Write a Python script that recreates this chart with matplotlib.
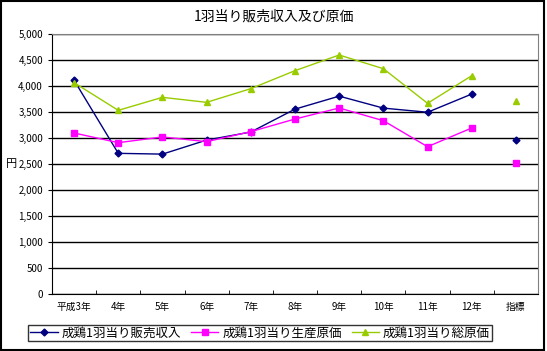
import matplotlib
matplotlib.use("Agg")
import matplotlib.pyplot as plt
from matplotlib.patches import Rectangle
import numpy as np

plt.rcParams['font.family'] = ['Noto Sans CJK JP', 'DejaVu Sans']

# データ
categories = ['平成3年', '4年', '5年', '6年', '7年', '8年', '9年', '10年', '11年', '12年', '指標']
hanbai = [4110, 2705, 2690, 2960, 3115, 3555, 3805, 3575, 3495, 3845, 2955]
seisan = [3096, 2910, 3020, 2930, 3122, 3365, 3577, 3333, 2833, 3192, 2526]
sougenka = [4064, 3532, 3782, 3686, 3949, 4295, 4596, 4333, 3667, 4198, 3705]
labels = ['成鶏1羽当り販売収入', '成鶏1羽当り生産原価', '成鶏1羽当り総原価']

colors = ['#000080', '#FF00FF', '#99CC00']
markers = ['D', 's', '^']
msizes = [3.5, 4.5, 5]

fig = plt.figure(figsize=(5.47, 3.51), dpi=100)
ax = fig.add_axes([52/547, 1-294/351, (538-52)/547, (294-34)/351])

x = np.arange(len(categories))
for vals, lab, c, m, ms in zip([hanbai, seisan, sougenka], labels, colors, markers, msizes):
    # 12年までは線で結び、指標は点のみ
    ax.plot(x[:-1], vals[:-1], color=c, marker=m, markersize=ms, linewidth=1, label=lab)
    ax.plot(x[-1:], vals[-1:], color=c, marker=m, markersize=ms, linestyle='none')

ax.set_xlim(-0.5, len(categories) - 0.5)
ax.set_ylim(0, 5000)
ax.set_yticks(np.arange(0, 5001, 500))
ax.set_yticklabels([f'{v:,}' for v in range(0, 5001, 500)], fontsize=7)
ax.yaxis.grid(True, color='black', linewidth=1)
ax.set_axisbelow(True)

ax.set_xticks(x)
ax.set_xticklabels(categories, fontsize=7)
ax.tick_params(axis='x', length=0, pad=6)
ax.set_xticks(np.arange(-0.5, len(categories)), minor=True)
ax.tick_params(axis='x', which='minor', direction='in', length=3)
ax.tick_params(axis='y', direction='out', length=3)

for s in ['top', 'right']:
    ax.spines[s].set_color('gray')
for s in ['left', 'bottom']:
    ax.spines[s].set_color('black')

fig.text(12/547, 1-164/351, '円', ha='center', va='center', fontsize=8)

fig.text(0.5, 1-17/351, '1羽当り販売収入及び原価', ha='center', va='center', fontsize=10)

leg = fig.legend(loc='center', bbox_to_anchor=(260/547, 1-333/351), ncol=3, fontsize=9,
                 frameon=True, fancybox=False, edgecolor='black', handlelength=2.2,
                 borderpad=0.15, columnspacing=0.8, handletextpad=0.3)
leg.get_frame().set_linewidth(1)

fig.patches.append(Rectangle((0.002, 0.003), 0.992, 0.994, transform=fig.transFigure,
                             fill=False, edgecolor='black', linewidth=1.5))

fig.savefig('out.png', dpi=100)
